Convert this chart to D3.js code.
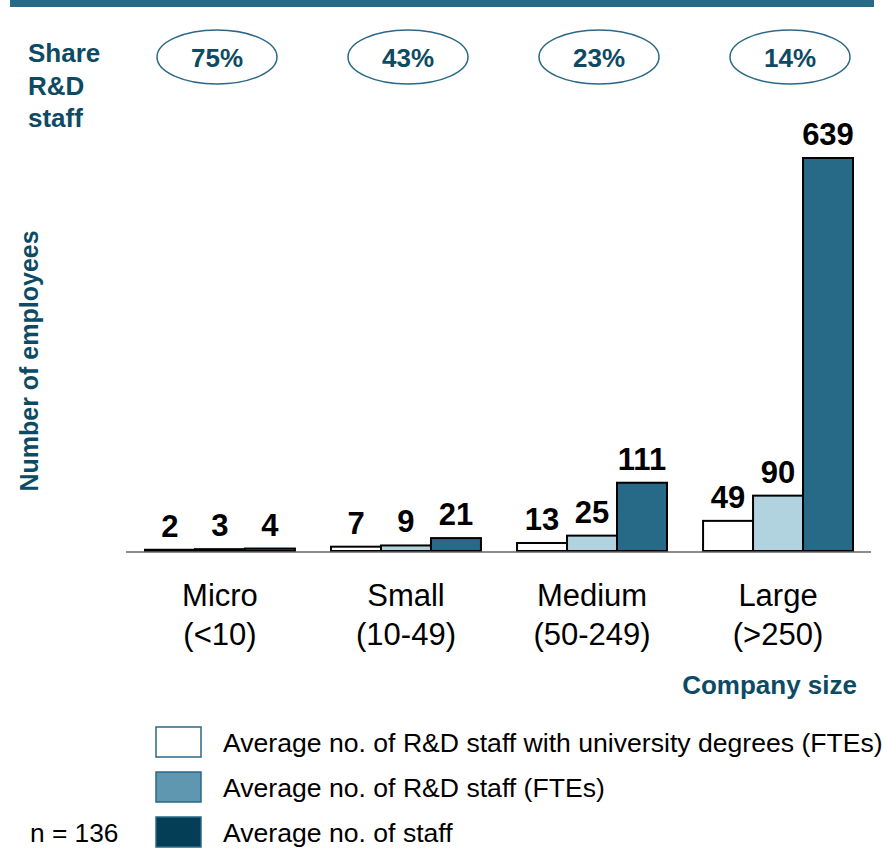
<!DOCTYPE html>
<html>
<head>
<meta charset="utf-8">
<script src="https://cdn.jsdelivr.net/npm/d3@7"></script>
<style>
  html, body { margin: 0; padding: 0; background: #fff; }
  svg { display: block; font-family: "Liberation Sans", Arial, Helvetica, sans-serif; }
</style>
</head>
<body>
<svg id="chart" width="884" height="858"></svg>
<script>
// Company size classes and their R&D staffing figures
const categories = ["Micro", "Small", "Medium", "Large"];
const categoryRanges = ["(<10)", "(10-49)", "(50-249)", "(>250)"];
const seriesNames = [
  "Average no. of R&D staff with university degrees (FTEs)",
  "Average no. of R&D staff (FTEs)",
  "Average no. of staff"
];
const rdStaffDegree = [2, 7, 13, 49];
const rdStaffFte = [3, 9, 25, 90];
const totalStaff = [4, 21, 111, 639];
const shareRdStaff = ["75%", "43%", "23%", "14%"];
const sampleNote = "n = 136";

const teal = "#0d4a63";
const barFill = ["#ffffff", "#b1d3df", "#266a87"];
const legendFill = ["#ffffff", "#5f97b0", "#043e56"];

const svg = d3.select("#chart");

// Header band
svg.append("rect").attr("x", 10).attr("y", 0).attr("width", 864).attr("height", 7).attr("fill", "#266a87");

// Scales
const x0 = d3.scaleBand().domain(categories).range([145, 853]).paddingInner(0.194).paddingOuter(0);
const series = [0, 1, 2];
const x1 = d3.scaleBand().domain(series).range([0, x0.bandwidth()]).padding(0);
const y = d3.scaleLinear().domain([0, 639]).range([551, 158]);

const values = series.map(s => [rdStaffDegree, rdStaffFte, totalStaff][s]);

// Share of R&D staff row
svg.append("g").attr("fill", teal).attr("font-weight", "bold").attr("font-size", 26)
  .selectAll("text").data(["Share", "R&D", "staff"]).join("text")
  .attr("x", 28).attr("y", (d, i) => 62 + i * 32.5).text(d => d);

const sx = d3.scalePoint().domain(categories).range([217, 790]);
const shareG = svg.append("g").selectAll("g").data(categories).join("g")
  .attr("transform", d => `translate(${sx(d)},57)`);
shareG.append("ellipse").attr("rx", 60).attr("ry", 27)
  .attr("fill", "none").attr("stroke", "#2a6886").attr("stroke-width", 1.5);
shareG.append("text").attr("text-anchor", "middle").attr("dy", 10)
  .attr("fill", teal).attr("font-weight", "bold").attr("font-size", 26)
  .text((d, i) => shareRdStaff[i]);

// Bars
const groups = svg.append("g").selectAll("g").data(categories).join("g")
  .attr("transform", d => `translate(${x0(d)},0)`);

groups.selectAll("rect").data((d, ci) => series.map(s => ({ s, v: values[s][ci] }))).join("rect")
  .attr("x", d => x1(d.s))
  .attr("y", d => y(d.v))
  .attr("width", x1.bandwidth())
  .attr("height", d => y(0) - y(d.v))
  .attr("fill", d => barFill[d.s])
  .attr("stroke", "#000").attr("stroke-width", 2);

groups.selectAll("text").data((d, ci) => series.map(s => ({ s, v: values[s][ci] }))).join("text")
  .attr("x", d => x1(d.s) + x1.bandwidth() / 2)
  .attr("y", d => y(d.v) - 13)
  .attr("text-anchor", "middle")
  .attr("font-weight", "bold").attr("font-size", 31).attr("fill", "#000")
  .text(d => d.v);

// Baseline axis
const xAxis = d3.axisBottom(x0).tickSize(0).tickFormat("");
const axisG = svg.append("g").attr("transform", `translate(0,${y(0) + 1})`).call(xAxis);
axisG.select(".domain").attr("d", "M126,0H871").attr("stroke", "#666").attr("stroke-width", 1.5);

// Category labels
const catG = svg.append("g").attr("font-size", 31).attr("fill", "#000").attr("text-anchor", "middle");
catG.selectAll("text.name").data(categories).join("text").attr("class", "name")
  .attr("x", d => x0(d) + x0.bandwidth() / 2).attr("y", 606).text(d => d);
catG.selectAll("text.range").data(categories).join("text").attr("class", "range")
  .attr("x", d => x0(d) + x0.bandwidth() / 2).attr("y", 645).text((d, i) => categoryRanges[i]);

// Axis titles
svg.append("text").attr("x", 857).attr("y", 694).attr("text-anchor", "end")
  .attr("fill", teal).attr("font-weight", "bold").attr("font-size", 26).text("Company size");
svg.append("text").attr("transform", "translate(38,361) rotate(-90)").attr("text-anchor", "middle")
  .attr("fill", teal).attr("font-weight", "bold").attr("font-size", 25).text("Number of employees");

// Legend
const legend = svg.append("g").selectAll("g").data(series).join("g")
  .attr("transform", s => `translate(156,${727 + s * 45})`);
legend.append("rect").attr("width", 45).attr("height", 30)
  .attr("fill", s => legendFill[s]).attr("stroke", "#2a6886").attr("stroke-width", 1.5);
legend.append("text").attr("x", 67).attr("y", 25).attr("font-size", 26.6).attr("fill", "#000")
  .text(s => seriesNames[s]);

svg.append("text").attr("x", 30).attr("y", 842).attr("font-size", 26.3).attr("fill", "#000").text(sampleNote);
</script>
</body>
</html>
